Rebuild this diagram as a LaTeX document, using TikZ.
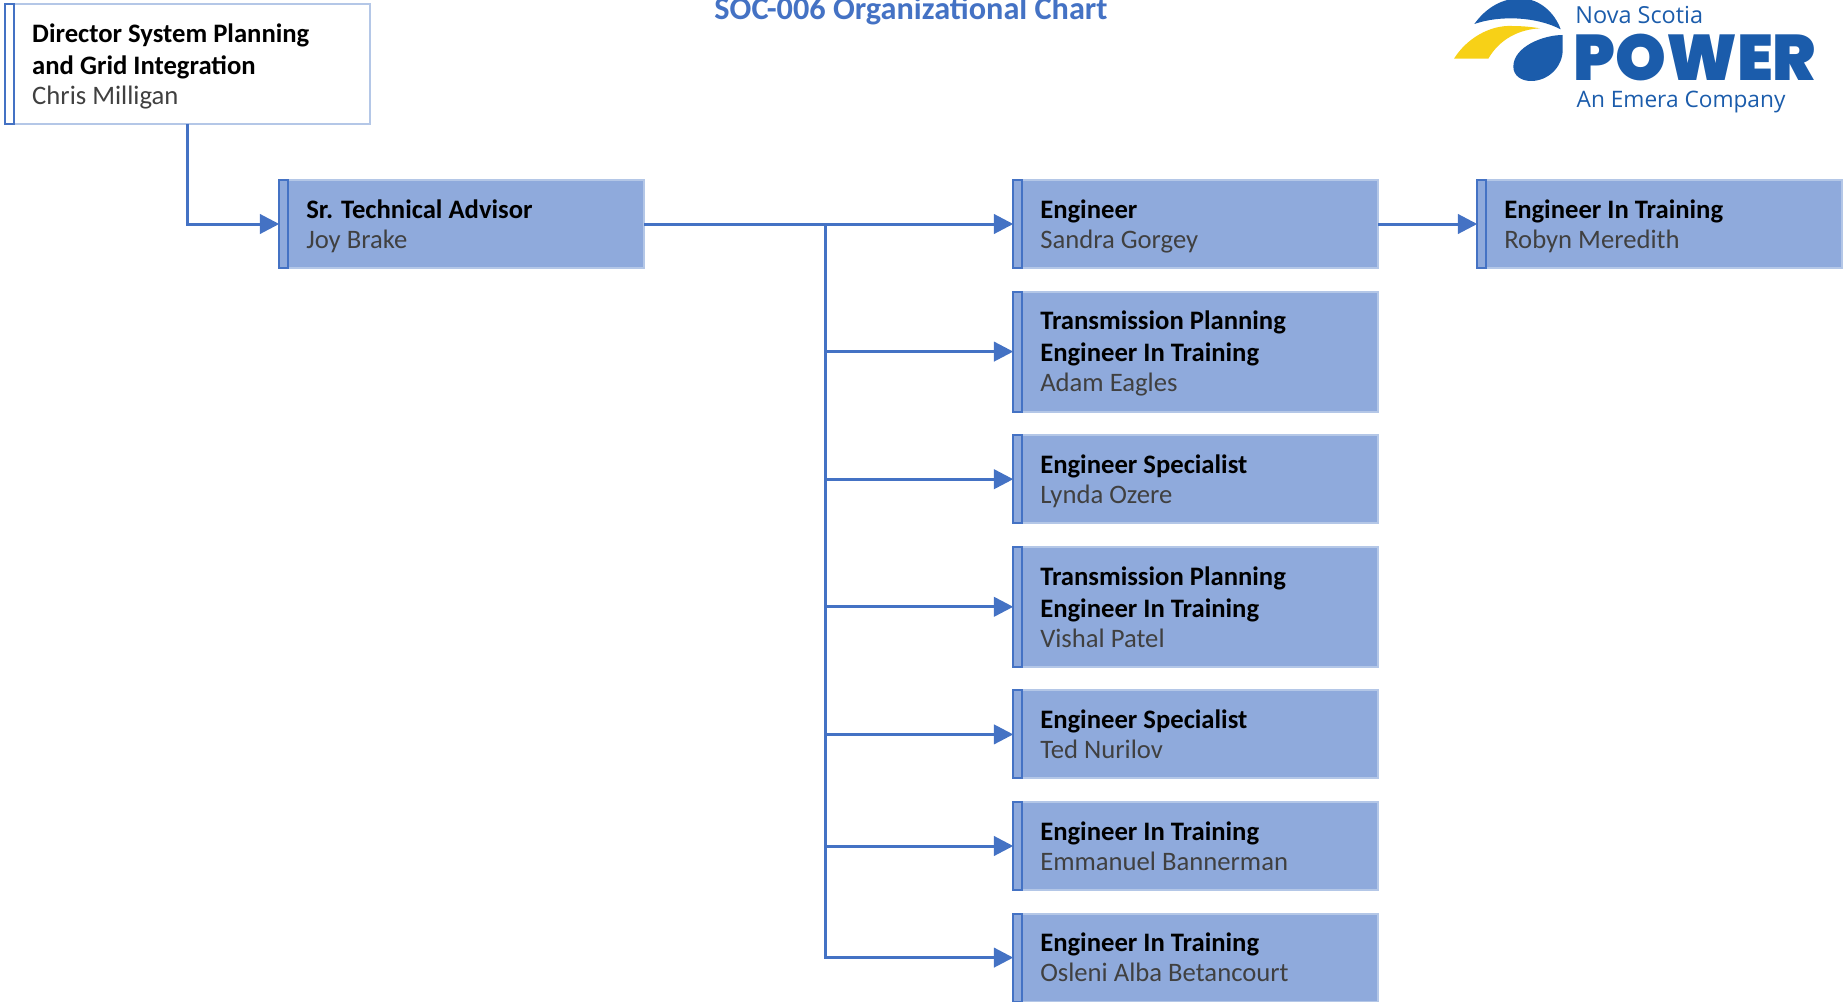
\documentclass[tikz,border=0pt]{standalone}
\usepackage{fontspec}
\setmainfont{Carlito}
\newfontfamily\logofont{Poppins}[UprightFont=* Black]
\newfontfamily\logotext{Open Sans}
\usepackage{xcolor}
\usetikzlibrary{positioning}
\usetikzlibrary{arrows.meta}
\definecolor{orgblue}{HTML}{4472C4}
\definecolor{orgfill}{HTML}{8FAADC}
\definecolor{orgedge}{HTML}{B4C7E7}
\definecolor{orgname}{HTML}{404040}
\definecolor{logoblue}{HTML}{1B5CAB}
\definecolor{logoyellow}{HTML}{F7D117}
\newcommand{\who}[1]{\raisebox{0pt}[\height][0pt]{\color{orgname}#1}}

\begin{document}
\begin{tikzpicture}[
      x=.75pt, y=-.75pt,
      node distance=17.7pt,
      org-box/.style={rectangle, draw=orgedge, line width=1.5pt, outer sep=0pt, inner xsep=20.25pt, inner ysep=0pt,
        text width=233.25pt, align=flush left, font=\fontsize{20}{24}\selectfont},
      org-strip/.style={draw=orgblue, line width=1.5pt},
      type-plain/.style={org-box, fill=white, minimum height=90pt},
      type-short/.style={org-box, fill=orgfill, minimum height=66pt},
      type-tall/.style={org-box, fill=orgfill, minimum height=90pt},
      link/.style={draw=orgblue, line width=2.25pt, -{Triangle[length=14.5pt,width=14.5pt]}},
      logo-word/.style={inner sep=0pt, outer sep=0pt, text=logoblue, anchor=base west}
    ]
      \useasboundingbox (0,0) rectangle (1845,1002);
      \node[inner sep=0pt, text=orgblue, font=\fontsize{24.2}{26}\selectfont\bfseries, anchor=base] (title) at (911,20) {SOC-006 Organizational Chart};

      \node[type-plain, anchor=north west] (director) at (5.25,4) {\textbf{Director System Planning}\\\textbf{and Grid Integration}\\[-1.5pt]\who{Chris Milligan}};
      \node[type-short, anchor=north west] (advisor) at (279.25,180) {\textbf{Sr. Technical Advisor}\\[-1.5pt]\who{Joy Brake}};

      \node[type-short, anchor=north west] (engineer) at (1013.25,180) {\textbf{Engineer}\\[-1.5pt]\who{Sandra Gorgey}};
      \node[type-tall, below=of engineer] (eagles) {\textbf{Transmission Planning}\\\textbf{Engineer In Training}\\[-1.5pt]\who{Adam Eagles}};
      \node[type-short, below=of eagles] (ozere) {\textbf{Engineer Specialist}\\[-1.5pt]\who{Lynda Ozere}};
      \node[type-tall, below=of ozere] (patel) {\textbf{Transmission Planning}\\\textbf{Engineer In Training}\\[-1.5pt]\who{Vishal Patel}};
      \node[type-short, below=of patel] (nurilov) {\textbf{Engineer Specialist}\\[-1.5pt]\who{Ted Nurilov}};
      \node[type-short, below=of nurilov] (bannerman) {\textbf{Engineer In Training}\\[-1.5pt]\who{Emmanuel Bannerman}};
      \node[type-short, below=of bannerman] (betancourt) {\textbf{Engineer In Training}\\[-1.5pt]\who{Osleni Alba Betancourt}};
      \node[type-short, anchor=north west] (meredith) at (1477.25,180) {\textbf{Engineer In Training}\\[-1.5pt]\who{Robyn Meredith}};

      \foreach \name in {director,advisor,engineer,eagles,ozere,patel,nurilov,bannerman,betancourt,meredith}
        \draw[org-strip] (\name.north west) rectangle ([xshift=6.75pt]\name.south west);

      \coordinate (trunk) at (825,224);

      \draw[link] (director.south) |- (advisor.west);
      \draw[link] (advisor.east) -- (engineer.west);
      \draw[link] (engineer.east) -- (meredith.west);
      \foreach \target in {eagles,ozere,patel,nurilov,bannerman,betancourt}
        \draw[link] (trunk) |- (\target.west);

      % logo
      \begin{scope}[shift={(1430,0)}, x=.25pt, y=-.25pt]
        \fill[logoblue] (133,72) .. controls (170,20) and (220,-5) .. (270,-5) .. controls (330,-5) and (375,40) .. (392,88) .. controls (320,50) and (210,45) .. (133,72) -- cycle;
        \fill[logoyellow] (72,176) .. controls (110,115) and (180,75) .. (245,78) .. controls (285,78) and (310,82) .. (330,85) .. controls (270,88) and (210,115) .. (175,176) -- cycle;
        \fill[logoblue] (398,105) .. controls (340,105) and (250,140) .. (250,200) .. controls (250,228) and (275,243) .. (303,243) .. controls (355,243) and (398,200) .. (398,150) -- cycle;
        \node[logo-word, font=\logotext\fontsize{17.6}{20}\selectfont] (nova) at (436,70) {Nova Scotia};
        \node[logo-word, font=\logofont\fontsize{48.4}{50}\selectfont] (power) at (430,242) {POWER};
        \node[logo-word, font=\logotext\fontsize{17}{20}\selectfont] (emera) at (440,323) {An Emera Company};
      \end{scope}
    \end{tikzpicture}
\end{document}
